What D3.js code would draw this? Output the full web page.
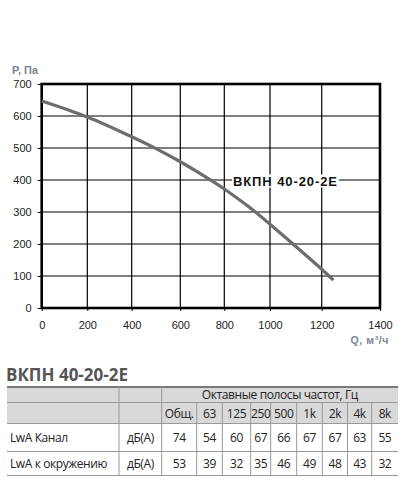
<!DOCTYPE html>
<html>
<head>
<meta charset="utf-8">
<script src="https://cdn.jsdelivr.net/npm/d3@7"></script>
<style>
  body { margin: 0; background: #fff; }
  svg { display: block; }
</style>
</head>
<body>
<div id="chart"></div>
<script>
// fan curve
var flow = [0, 200, 400, 500, 600, 700, 800, 900, 1000, 1100, 1200, 1240];
var pressure = [647, 597, 535, 498, 457, 416, 372, 320, 262, 192, 121, 87];

var xTicks = [0, 200, 400, 600, 800, 1000, 1200, 1400];
var yTicks = [0, 100, 200, 300, 400, 500, 600, 700];

var modelName = "ВКПН 40-20-2Е";

// sound table
var bandTitle = "Октавные полосы частот, Гц";
var bands = ["Общ.", "63", "125", "250", "500", "1k", "2k", "4k", "8k"];
var rowLabels = ["LwA Канал", "LwA к окружению"];
var rowUnits = ["дБ(А)", "дБ(А)"];
var ductValues = [74, 54, 60, 67, 66, 67, 67, 63, 55];
var roomValues = [53, 39, 32, 35, 46, 49, 48, 43, 32];

var W = 409, H = 483;

var svg = d3.select("#chart")
      .append("svg")
      .attr("width", W)
      .attr("height", H);

// the source image is a bit stretched on x, so the scale is piecewise
var x = d3.scaleLinear()
      .domain(xTicks)
      .range([41.7, 87.3, 131.7, 180.3, 224.3, 270, 321.7, 380]);

var y = d3.scaleLinear()
      .domain([0, 700])
      .range([308, 84]);

var plot = svg.append("g");

// grid
plot.selectAll(".vgrid")
  .data(xTicks)
  .enter()
  .append("line")
  .attr("x1", function(d) { return x(d); })
  .attr("x2", function(d) { return x(d); })
  .attr("y1", y(0))
  .attr("y2", y(700))
  .style("stroke", "#000")
  .style("stroke-width", 1.2);

plot.selectAll(".hgrid")
  .data(yTicks)
  .enter()
  .append("line")
  .attr("x1", x(0))
  .attr("x2", x(1400))
  .attr("y1", function(d) { return y(d); })
  .attr("y2", function(d) { return y(d); })
  .style("stroke", "#000")
  .style("stroke-width", 1.2);

// axes
var xAxis = d3.axisBottom(x).tickValues(xTicks).tickFormat(d3.format("d")).tickSize(3).tickPadding(10);
var yAxis = d3.axisLeft(y).tickValues(yTicks).tickFormat(d3.format("d")).tickSize(4).tickPadding(6);

var gx = plot.append("g")
  .attr("transform", "translate(0," + y(0) + ")")
  .call(xAxis);
var gy = plot.append("g")
  .attr("transform", "translate(" + x(0) + ",0)")
  .call(yAxis);

[gx, gy].forEach(function(g) {
  g.select(".domain").remove();
  g.selectAll("text")
    .style("font-family", "Liberation Sans, Arial, sans-serif")
    .style("font-size", "11px")
    .style("fill", "#222");
  g.selectAll(".tick line").style("stroke", "#000");
});

// frame
plot.append("rect")
  .attr("x", x(0))
  .attr("y", y(700))
  .attr("width", x(1400) - x(0))
  .attr("height", y(0) - y(700))
  .style("fill", "none")
  .style("stroke", "#000")
  .style("stroke-width", 2.6);

// curve
var line = d3.line()
  .x(function(d) { return x(d[0]); })
  .y(function(d) { return y(d[1]); })
  .curve(d3.curveMonotoneX);

plot.append("path")
  .datum(d3.zip(flow, pressure))
  .attr("d", line)
  .style("fill", "none")
  .style("stroke", "#6b6e71")
  .style("stroke-width", 3.2);

// curve label, white box under it hides the grid line
var lblBox = plot.append("rect").style("fill", "#fff");
var lbl = plot.append("text")
  .attr("x", 233)
  .attr("y", 185.5)
  .text(modelName)
  .style("font-family", "Liberation Sans, Arial, sans-serif")
  .style("font-weight", "bold")
  .style("font-size", "13px")
  .style("letter-spacing", "0.9px")
  .style("fill", "#111");
var bb = lbl.node().getBBox();
lblBox
  .attr("x", bb.x - 1)
  .attr("y", bb.y + 1)
  .attr("width", bb.width + 2)
  .attr("height", bb.height - 2);

// axis titles
plot.append("text")
  .attr("x", 12)
  .attr("y", 74)
  .text("P, Па")
  .style("font-family", "Liberation Sans, Arial, sans-serif")
  .style("font-weight", "bold")
  .style("font-size", "11px")
  .style("fill", "#7a8592");

plot.append("text")
  .attr("x", 389)
  .attr("y", 344)
  .attr("text-anchor", "end")
  .text("Q, м³/ч")
  .style("font-family", "Liberation Sans, Arial, sans-serif")
  .style("font-weight", "bold")
  .style("font-size", "10.5px")
  .style("letter-spacing", "0.6px")
  .style("fill", "#7a8592");

// ---- table ----
var colEdges = [7, 119, 161.7, 196.7, 222.3, 250.7, 270.7, 296.7, 322.3, 347.5, 371.7, 398];
var rowEdges = [387, 402.5, 423.5, 451.5, 475.5];
var tFont = "Open Sans, Noto Sans, sans-serif";

var tbl = svg.append("g");

tbl.append("text")
  .attr("x", 6)
  .attr("y", 381)
  .text(modelName)
  .style("font-family", tFont)
  .style("font-weight", "bold")
  .style("font-size", "17px")
  .style("fill", "#555");

tbl.append("rect")
  .attr("x", colEdges[0])
  .attr("y", rowEdges[0])
  .attr("width", colEdges[colEdges.length - 1] - colEdges[0])
  .attr("height", rowEdges[2] - rowEdges[0])
  .style("fill", "#d9d9d9");

// horizontal rules
tbl.selectAll(".hr")
  .data(rowEdges.slice(1))
  .enter()
  .append("line")
  .attr("x1", colEdges[0])
  .attr("x2", colEdges[colEdges.length - 1])
  .attr("y1", function(d) { return d; })
  .attr("y2", function(d) { return d; })
  .style("stroke", "#999")
  .style("stroke-width", 1);

tbl.append("line")
  .attr("x1", colEdges[0])
  .attr("x2", colEdges[colEdges.length - 1])
  .attr("y1", rowEdges[0])
  .attr("y2", rowEdges[0])
  .style("stroke", "#7a7a7a")
  .style("stroke-width", 2);

// vertical rules: first two go full height, the rest start under the band title
tbl.selectAll(".vr")
  .data(colEdges.slice(1, colEdges.length - 1))
  .enter()
  .append("line")
  .attr("x1", function(d) { return d; })
  .attr("x2", function(d) { return d; })
  .attr("y1", function(d, i) { return i < 2 ? rowEdges[0] : rowEdges[1]; })
  .attr("y2", rowEdges[4])
  .style("stroke", "#999")
  .style("stroke-width", 1);

function cellText(txt, cx, cy, anchor) {
  tbl.append("text")
    .attr("x", cx)
    .attr("y", cy)
    .attr("text-anchor", anchor || "middle")
    .attr("dominant-baseline", "central")
    .text(txt)
    .style("font-family", tFont)
    .style("font-size", "12px")
    .style("letter-spacing", "-0.4px")
    .style("fill", "#222");
}

function mid(a, b) { return (a + b) / 2; }

cellText(bandTitle, mid(colEdges[2], colEdges[11]), mid(rowEdges[0], rowEdges[1]));

bands.forEach(function(b, i) {
  cellText(b, mid(colEdges[i + 2], colEdges[i + 3]), mid(rowEdges[1], rowEdges[2]));
});

[ductValues, roomValues].forEach(function(vals, r) {
  var cy = mid(rowEdges[r + 2], rowEdges[r + 3]);
  cellText(rowLabels[r], 10, cy, "start");
  cellText(rowUnits[r], mid(colEdges[1], colEdges[2]), cy);
  vals.forEach(function(v, i) {
    cellText(v, mid(colEdges[i + 2], colEdges[i + 3]), cy);
  });
});
</script>
</body>
</html>
